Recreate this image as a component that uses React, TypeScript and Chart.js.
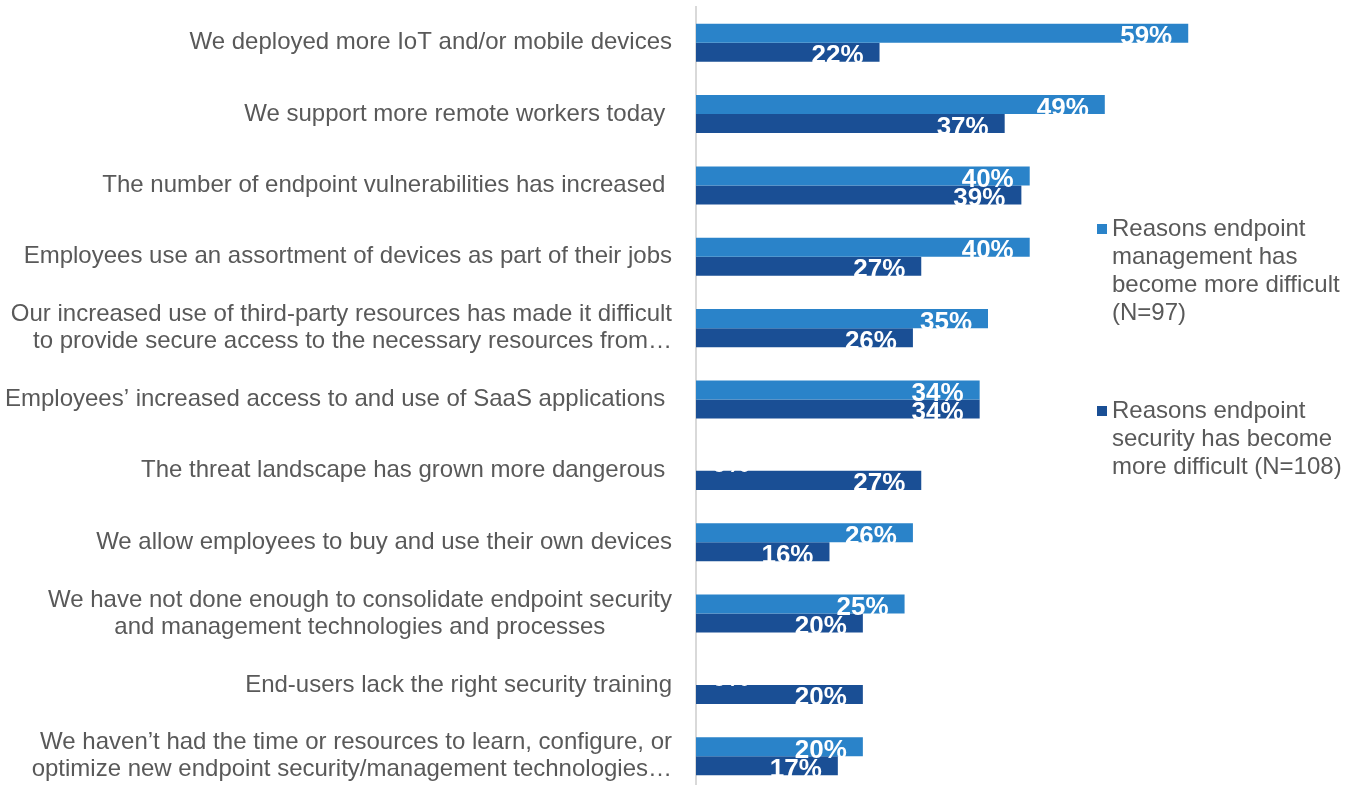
import React, { useEffect, useRef } from "react";
import { Chart, registerables } from "chart.js";

Chart.register(...registerables);

const categories: (string | string[])[] = [
  "We deployed more IoT and/or mobile devices",
  "We support more remote workers today ",
  "The number of endpoint vulnerabilities has increased ",
  "Employees use an assortment of devices as part of their jobs",
  [
    "Our increased use of third-party resources has made it difficult",
    "to provide secure access to the necessary resources from…",
  ],
  "Employees’ increased access to and use of SaaS applications ",
  "The threat landscape has grown more dangerous ",
  "We allow employees to buy and use their own devices",
  [
    "We have not done enough to consolidate endpoint security",
    "and management technologies and processes          ",
  ],
  "End-users lack the right security training",
  [
    "We haven’t had the time or resources to learn, configure, or",
    "optimize new endpoint security/management technologies…",
  ],
];

const managementValues = [59, 49, 40, 40, 35, 34, 0, 26, 25, 0, 20];
const securityValues = [22, 37, 39, 27, 26, 34, 27, 16, 20, 20, 17];

const managementLabel = "Reasons endpoint management has become more difficult (N=97)";
const securityLabel = "Reasons endpoint security has become more difficult (N=108)";

const LIGHT = "#2a83c9";
const DARK = "#1a4f95";
const TEXT = "#595959";
const FONT = "'Liberation Sans', Arial, sans-serif";

const valueLabelPlugin = {
  id: "valueLabels",
  afterDatasetsDraw(chart: any) {
    const ctx = chart.ctx;
    const base = chart.chartArea.left;
    ctx.save();
    ctx.font = `bold 26px ${FONT}`;
    ctx.fillStyle = "#ffffff";
    ctx.textAlign = "right";
    ctx.textBaseline = "alphabetic";
    chart.data.datasets.forEach((ds: any, di: number) => {
      const meta = chart.getDatasetMeta(di);
      meta.data.forEach((bar: any, i: number) => {
        const txt = `${ds.data[i]}%`;
        const w = ctx.measureText(txt).width;
        const x = Math.max(bar.x - 16, base + w + 16);
        const y = bar.y + bar.height / 2 + 1.5;
        ctx.fillText(txt, x, y);
      });
    });
    ctx.restore();
  },
};

const legendPlugin = {
  id: "customLegend",
  afterDraw(chart: any) {
    const opts = chart.options.plugins.customLegend;
    const ctx = chart.ctx;
    ctx.save();
    ctx.font = `24px ${FONT}`;
    ctx.textAlign = "left";
    ctx.textBaseline = "middle";
    chart.data.datasets.forEach((ds: any, di: number) => {
      const words = String(ds.label).split(" ");
      const lines: string[] = [];
      let cur = "";
      words.forEach((w) => {
        const t = cur ? cur + " " + w : w;
        if (ctx.measureText(t).width > opts.maxWidth && cur) {
          lines.push(cur);
          cur = w;
        } else cur = t;
      });
      if (cur) lines.push(cur);
      const y0 = opts.tops[di];
      ctx.fillStyle = ds.backgroundColor;
      ctx.fillRect(opts.x, y0 - 5, 10, 10);
      ctx.fillStyle = TEXT;
      lines.forEach((ln, li) => {
        ctx.fillText(ln, opts.x + 15, y0 + li * opts.lineHeight);
      });
    });
    ctx.restore();
  },
};

export default function App() {
  const ref = useRef<HTMLCanvasElement>(null);
  useEffect(() => {
    if (!ref.current) return;
    const chart = new Chart(ref.current, {
      type: "bar",
      data: {
        labels: categories,
        datasets: [
          {
            label: managementLabel,
            data: managementValues,
            backgroundColor: LIGHT,
            barPercentage: 1,
            categoryPercentage: 0.533,
          },
          {
            label: securityLabel,
            data: securityValues,
            backgroundColor: DARK,
            barPercentage: 1,
            categoryPercentage: 0.533,
          },
        ],
      },
      options: {
        indexAxis: "y",
        responsive: false,
        animation: false,
        layout: { padding: { top: 7, bottom: 0, left: 0, right: 77 } },
        plugins: {
          legend: { display: false },
          tooltip: { enabled: false },
          customLegend: { x: 1097, tops: [229, 411], lineHeight: 28, maxWidth: 250 },
        } as any,
        scales: {
          x: { display: false, min: 0, max: 70 },
          y: {
            afterFit(scale: any) {
              scale.width = 696;
              scale.paddingTop = 0;
              scale.paddingBottom = 0;
            },
            grid: { display: true, drawOnChartArea: false, drawTicks: false },
            border: { display: true, color: "#d9d9d9", width: 2 },
            ticks: {
              color: TEXT,
              padding: 24,
              autoSkip: false,
              font: { family: FONT, size: 24, lineHeight: 1.125 },
            },
          },
        },
      },
      plugins: [valueLabelPlugin, legendPlugin],
    });
    return () => chart.destroy();
  }, []);
  return (
    <div
      style={{
        position: "fixed",
        left: 0,
        top: 0,
        width: 1357,
        height: 785,
        overflow: "hidden",
        background: "#ffffff",
      }}
    >
      <canvas ref={ref} width={1357} height={792} style={{ display: "block" }} />
    </div>
  );
}
